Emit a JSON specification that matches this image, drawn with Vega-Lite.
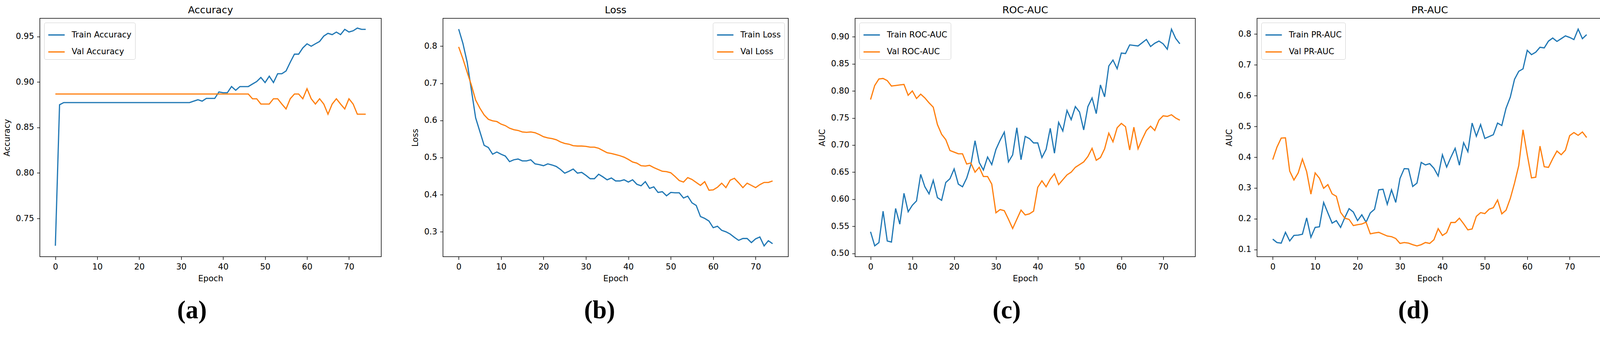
{
  "$schema": "https://vega.github.io/schema/vega-lite/v6.json",
  "background": "white",
  "padding": {"left": 6, "top": 13, "right": 0, "bottom": 0},
  "spacing": 74,
  "data": {"values": [
    {"epoch":0,"Train Accuracy":0.720,"Val Accuracy":0.8868,"Train Loss":0.846,"Val Loss":0.798,"Train ROC-AUC":0.540,"Val ROC-AUC":0.784,"Train PR-AUC":0.134,"Val PR-AUC":0.392},
    {"epoch":1,"Train Accuracy":0.875,"Val Accuracy":0.8868,"Train Loss":0.8075,"Val Loss":0.766,"Train ROC-AUC":0.514,"Val ROC-AUC":0.810,"Train PR-AUC":0.123,"Val PR-AUC":0.433},
    {"epoch":2,"Train Accuracy":0.8774,"Val Accuracy":0.8868,"Train Loss":0.757,"Val Loss":0.730,"Train ROC-AUC":0.520,"Val ROC-AUC":0.822,"Train PR-AUC":0.121,"Val PR-AUC":0.462},
    {"epoch":3,"Train Accuracy":0.8774,"Val Accuracy":0.8868,"Train Loss":0.682,"Val Loss":0.695,"Train ROC-AUC":0.578,"Val ROC-AUC":0.823,"Train PR-AUC":0.156,"Val PR-AUC":0.463},
    {"epoch":4,"Train Accuracy":0.8774,"Val Accuracy":0.8868,"Train Loss":0.607,"Val Loss":0.655,"Train ROC-AUC":0.523,"Val ROC-AUC":0.819,"Train PR-AUC":0.128,"Val PR-AUC":0.355},
    {"epoch":5,"Train Accuracy":0.8774,"Val Accuracy":0.8868,"Train Loss":0.570,"Val Loss":0.633,"Train ROC-AUC":0.521,"Val ROC-AUC":0.809,"Train PR-AUC":0.146,"Val PR-AUC":0.326},
    {"epoch":6,"Train Accuracy":0.8774,"Val Accuracy":0.8868,"Train Loss":0.533,"Val Loss":0.615,"Train ROC-AUC":0.583,"Val ROC-AUC":0.810,"Train PR-AUC":0.147,"Val PR-AUC":0.349},
    {"epoch":7,"Train Accuracy":0.8774,"Val Accuracy":0.8868,"Train Loss":0.527,"Val Loss":0.603,"Train ROC-AUC":0.554,"Val ROC-AUC":0.811,"Train PR-AUC":0.150,"Val PR-AUC":0.394},
    {"epoch":8,"Train Accuracy":0.8774,"Val Accuracy":0.8868,"Train Loss":0.509,"Val Loss":0.599,"Train ROC-AUC":0.611,"Val ROC-AUC":0.812,"Train PR-AUC":0.203,"Val PR-AUC":0.353},
    {"epoch":9,"Train Accuracy":0.8774,"Val Accuracy":0.8868,"Train Loss":0.515,"Val Loss":0.597,"Train ROC-AUC":0.577,"Val ROC-AUC":0.792,"Train PR-AUC":0.140,"Val PR-AUC":0.280},
    {"epoch":10,"Train Accuracy":0.8774,"Val Accuracy":0.8868,"Train Loss":0.509,"Val Loss":0.590,"Train ROC-AUC":0.589,"Val ROC-AUC":0.800,"Train PR-AUC":0.172,"Val PR-AUC":0.349},
    {"epoch":11,"Train Accuracy":0.8774,"Val Accuracy":0.8868,"Train Loss":0.504,"Val Loss":0.586,"Train ROC-AUC":0.597,"Val ROC-AUC":0.786,"Train PR-AUC":0.174,"Val PR-AUC":0.332},
    {"epoch":12,"Train Accuracy":0.8774,"Val Accuracy":0.8868,"Train Loss":0.489,"Val Loss":0.579,"Train ROC-AUC":0.646,"Val ROC-AUC":0.794,"Train PR-AUC":0.253,"Val PR-AUC":0.299},
    {"epoch":13,"Train Accuracy":0.8774,"Val Accuracy":0.8868,"Train Loss":0.494,"Val Loss":0.575,"Train ROC-AUC":0.623,"Val ROC-AUC":0.787,"Train PR-AUC":0.219,"Val PR-AUC":0.311},
    {"epoch":14,"Train Accuracy":0.8774,"Val Accuracy":0.8868,"Train Loss":0.496,"Val Loss":0.573,"Train ROC-AUC":0.610,"Val ROC-AUC":0.778,"Train PR-AUC":0.186,"Val PR-AUC":0.281},
    {"epoch":15,"Train Accuracy":0.8774,"Val Accuracy":0.8868,"Train Loss":0.491,"Val Loss":0.569,"Train ROC-AUC":0.635,"Val ROC-AUC":0.770,"Train PR-AUC":0.194,"Val PR-AUC":0.273},
    {"epoch":16,"Train Accuracy":0.8774,"Val Accuracy":0.8868,"Train Loss":0.491,"Val Loss":0.568,"Train ROC-AUC":0.603,"Val ROC-AUC":0.738,"Train PR-AUC":0.172,"Val PR-AUC":0.221},
    {"epoch":17,"Train Accuracy":0.8774,"Val Accuracy":0.8868,"Train Loss":0.494,"Val Loss":0.569,"Train ROC-AUC":0.598,"Val ROC-AUC":0.720,"Train PR-AUC":0.204,"Val PR-AUC":0.202},
    {"epoch":18,"Train Accuracy":0.8774,"Val Accuracy":0.8868,"Train Loss":0.483,"Val Loss":0.567,"Train ROC-AUC":0.631,"Val ROC-AUC":0.710,"Train PR-AUC":0.233,"Val PR-AUC":0.198},
    {"epoch":19,"Train Accuracy":0.8774,"Val Accuracy":0.8868,"Train Loss":0.481,"Val Loss":0.562,"Train ROC-AUC":0.638,"Val ROC-AUC":0.690,"Train PR-AUC":0.222,"Val PR-AUC":0.178},
    {"epoch":20,"Train Accuracy":0.8774,"Val Accuracy":0.8868,"Train Loss":0.478,"Val Loss":0.556,"Train ROC-AUC":0.656,"Val ROC-AUC":0.687,"Train PR-AUC":0.194,"Val PR-AUC":0.181},
    {"epoch":21,"Train Accuracy":0.8774,"Val Accuracy":0.8868,"Train Loss":0.483,"Val Loss":0.553,"Train ROC-AUC":0.628,"Val ROC-AUC":0.684,"Train PR-AUC":0.213,"Val PR-AUC":0.183},
    {"epoch":22,"Train Accuracy":0.8774,"Val Accuracy":0.8868,"Train Loss":0.480,"Val Loss":0.551,"Train ROC-AUC":0.623,"Val ROC-AUC":0.684,"Train PR-AUC":0.189,"Val PR-AUC":0.189},
    {"epoch":23,"Train Accuracy":0.8774,"Val Accuracy":0.8868,"Train Loss":0.476,"Val Loss":0.548,"Train ROC-AUC":0.639,"Val ROC-AUC":0.665,"Train PR-AUC":0.219,"Val PR-AUC":0.151},
    {"epoch":24,"Train Accuracy":0.8774,"Val Accuracy":0.8868,"Train Loss":0.468,"Val Loss":0.542,"Train ROC-AUC":0.664,"Val ROC-AUC":0.667,"Train PR-AUC":0.231,"Val PR-AUC":0.154},
    {"epoch":25,"Train Accuracy":0.8774,"Val Accuracy":0.8868,"Train Loss":0.458,"Val Loss":0.538,"Train ROC-AUC":0.708,"Val ROC-AUC":0.650,"Train PR-AUC":0.294,"Val PR-AUC":0.156},
    {"epoch":26,"Train Accuracy":0.8774,"Val Accuracy":0.8868,"Train Loss":0.463,"Val Loss":0.536,"Train ROC-AUC":0.668,"Val ROC-AUC":0.659,"Train PR-AUC":0.296,"Val PR-AUC":0.150},
    {"epoch":27,"Train Accuracy":0.8774,"Val Accuracy":0.8868,"Train Loss":0.469,"Val Loss":0.532,"Train ROC-AUC":0.654,"Val ROC-AUC":0.642,"Train PR-AUC":0.247,"Val PR-AUC":0.144},
    {"epoch":28,"Train Accuracy":0.8774,"Val Accuracy":0.8868,"Train Loss":0.458,"Val Loss":0.531,"Train ROC-AUC":0.678,"Val ROC-AUC":0.642,"Train PR-AUC":0.294,"Val PR-AUC":0.142},
    {"epoch":29,"Train Accuracy":0.8774,"Val Accuracy":0.8868,"Train Loss":0.460,"Val Loss":0.531,"Train ROC-AUC":0.664,"Val ROC-AUC":0.628,"Train PR-AUC":0.253,"Val PR-AUC":0.136},
    {"epoch":30,"Train Accuracy":0.8774,"Val Accuracy":0.8868,"Train Loss":0.452,"Val Loss":0.530,"Train ROC-AUC":0.692,"Val ROC-AUC":0.575,"Train PR-AUC":0.331,"Val PR-AUC":0.120},
    {"epoch":31,"Train Accuracy":0.8774,"Val Accuracy":0.8868,"Train Loss":0.443,"Val Loss":0.528,"Train ROC-AUC":0.709,"Val ROC-AUC":0.581,"Train PR-AUC":0.363,"Val PR-AUC":0.123},
    {"epoch":32,"Train Accuracy":0.8774,"Val Accuracy":0.8868,"Train Loss":0.443,"Val Loss":0.528,"Train ROC-AUC":0.724,"Val ROC-AUC":0.579,"Train PR-AUC":0.362,"Val PR-AUC":0.121},
    {"epoch":33,"Train Accuracy":0.8790,"Val Accuracy":0.8868,"Train Loss":0.455,"Val Loss":0.525,"Train ROC-AUC":0.669,"Val ROC-AUC":0.563,"Train PR-AUC":0.305,"Val PR-AUC":0.116},
    {"epoch":34,"Train Accuracy":0.8805,"Val Accuracy":0.8868,"Train Loss":0.448,"Val Loss":0.519,"Train ROC-AUC":0.682,"Val ROC-AUC":0.546,"Train PR-AUC":0.316,"Val PR-AUC":0.112},
    {"epoch":35,"Train Accuracy":0.8790,"Val Accuracy":0.8868,"Train Loss":0.440,"Val Loss":0.513,"Train ROC-AUC":0.732,"Val ROC-AUC":0.563,"Train PR-AUC":0.383,"Val PR-AUC":0.116},
    {"epoch":36,"Train Accuracy":0.8820,"Val Accuracy":0.8868,"Train Loss":0.445,"Val Loss":0.511,"Train ROC-AUC":0.673,"Val ROC-AUC":0.580,"Train PR-AUC":0.375,"Val PR-AUC":0.123},
    {"epoch":37,"Train Accuracy":0.8820,"Val Accuracy":0.8868,"Train Loss":0.437,"Val Loss":0.508,"Train ROC-AUC":0.716,"Val ROC-AUC":0.571,"Train PR-AUC":0.379,"Val PR-AUC":0.120},
    {"epoch":38,"Train Accuracy":0.8820,"Val Accuracy":0.8868,"Train Loss":0.437,"Val Loss":0.505,"Train ROC-AUC":0.712,"Val ROC-AUC":0.573,"Train PR-AUC":0.364,"Val PR-AUC":0.132},
    {"epoch":39,"Train Accuracy":0.8891,"Val Accuracy":0.8868,"Train Loss":0.440,"Val Loss":0.501,"Train ROC-AUC":0.704,"Val ROC-AUC":0.578,"Train PR-AUC":0.339,"Val PR-AUC":0.168},
    {"epoch":40,"Train Accuracy":0.8882,"Val Accuracy":0.8868,"Train Loss":0.434,"Val Loss":0.495,"Train ROC-AUC":0.704,"Val ROC-AUC":0.622,"Train PR-AUC":0.408,"Val PR-AUC":0.146},
    {"epoch":41,"Train Accuracy":0.8882,"Val Accuracy":0.8868,"Train Loss":0.440,"Val Loss":0.488,"Train ROC-AUC":0.677,"Val ROC-AUC":0.634,"Train PR-AUC":0.368,"Val PR-AUC":0.155},
    {"epoch":42,"Train Accuracy":0.8950,"Val Accuracy":0.8868,"Train Loss":0.428,"Val Loss":0.485,"Train ROC-AUC":0.692,"Val ROC-AUC":0.623,"Train PR-AUC":0.400,"Val PR-AUC":0.188},
    {"epoch":43,"Train Accuracy":0.8909,"Val Accuracy":0.8868,"Train Loss":0.424,"Val Loss":0.478,"Train ROC-AUC":0.731,"Val ROC-AUC":0.637,"Train PR-AUC":0.429,"Val PR-AUC":0.188},
    {"epoch":44,"Train Accuracy":0.8950,"Val Accuracy":0.8868,"Train Loss":0.435,"Val Loss":0.477,"Train ROC-AUC":0.685,"Val ROC-AUC":0.647,"Train PR-AUC":0.374,"Val PR-AUC":0.202},
    {"epoch":45,"Train Accuracy":0.8950,"Val Accuracy":0.8868,"Train Loss":0.417,"Val Loss":0.479,"Train ROC-AUC":0.742,"Val ROC-AUC":0.627,"Train PR-AUC":0.447,"Val PR-AUC":0.184},
    {"epoch":46,"Train Accuracy":0.8950,"Val Accuracy":0.8868,"Train Loss":0.421,"Val Loss":0.473,"Train ROC-AUC":0.726,"Val ROC-AUC":0.636,"Train PR-AUC":0.418,"Val PR-AUC":0.164},
    {"epoch":47,"Train Accuracy":0.8978,"Val Accuracy":0.8816,"Train Loss":0.406,"Val Loss":0.468,"Train ROC-AUC":0.764,"Val ROC-AUC":0.645,"Train PR-AUC":0.511,"Val PR-AUC":0.167},
    {"epoch":48,"Train Accuracy":0.9005,"Val Accuracy":0.8816,"Train Loss":0.408,"Val Loss":0.463,"Train ROC-AUC":0.747,"Val ROC-AUC":0.650,"Train PR-AUC":0.468,"Val PR-AUC":0.208},
    {"epoch":49,"Train Accuracy":0.9050,"Val Accuracy":0.8758,"Train Loss":0.397,"Val Loss":0.462,"Train ROC-AUC":0.771,"Val ROC-AUC":0.659,"Train PR-AUC":0.506,"Val PR-AUC":0.220},
    {"epoch":50,"Train Accuracy":0.8994,"Val Accuracy":0.8758,"Train Loss":0.406,"Val Loss":0.459,"Train ROC-AUC":0.761,"Val ROC-AUC":0.664,"Train PR-AUC":0.461,"Val PR-AUC":0.217},
    {"epoch":51,"Train Accuracy":0.9064,"Val Accuracy":0.8758,"Train Loss":0.405,"Val Loss":0.449,"Train ROC-AUC":0.728,"Val ROC-AUC":0.669,"Train PR-AUC":0.467,"Val PR-AUC":0.231},
    {"epoch":52,"Train Accuracy":0.8994,"Val Accuracy":0.8816,"Train Loss":0.405,"Val Loss":0.438,"Train ROC-AUC":0.771,"Val ROC-AUC":0.679,"Train PR-AUC":0.473,"Val PR-AUC":0.236},
    {"epoch":53,"Train Accuracy":0.9091,"Val Accuracy":0.8816,"Train Loss":0.391,"Val Loss":0.434,"Train ROC-AUC":0.787,"Val ROC-AUC":0.694,"Train PR-AUC":0.511,"Val PR-AUC":0.261},
    {"epoch":54,"Train Accuracy":0.9091,"Val Accuracy":0.8758,"Train Loss":0.396,"Val Loss":0.446,"Train ROC-AUC":0.758,"Val ROC-AUC":0.672,"Train PR-AUC":0.503,"Val PR-AUC":0.216},
    {"epoch":55,"Train Accuracy":0.9121,"Val Accuracy":0.8704,"Train Loss":0.378,"Val Loss":0.441,"Train ROC-AUC":0.811,"Val ROC-AUC":0.677,"Train PR-AUC":0.559,"Val PR-AUC":0.228},
    {"epoch":56,"Train Accuracy":0.9217,"Val Accuracy":0.8816,"Train Loss":0.371,"Val Loss":0.433,"Train ROC-AUC":0.789,"Val ROC-AUC":0.693,"Train PR-AUC":0.595,"Val PR-AUC":0.266},
    {"epoch":57,"Train Accuracy":0.9306,"Val Accuracy":0.8868,"Train Loss":0.341,"Val Loss":0.425,"Train ROC-AUC":0.846,"Val ROC-AUC":0.722,"Train PR-AUC":0.653,"Val PR-AUC":0.316},
    {"epoch":58,"Train Accuracy":0.9306,"Val Accuracy":0.8868,"Train Loss":0.336,"Val Loss":0.435,"Train ROC-AUC":0.857,"Val ROC-AUC":0.706,"Train PR-AUC":0.679,"Val PR-AUC":0.373},
    {"epoch":59,"Train Accuracy":0.9375,"Val Accuracy":0.8816,"Train Loss":0.329,"Val Loss":0.412,"Train ROC-AUC":0.841,"Val ROC-AUC":0.732,"Train PR-AUC":0.687,"Val PR-AUC":0.489},
    {"epoch":60,"Train Accuracy":0.9420,"Val Accuracy":0.8926,"Train Loss":0.311,"Val Loss":0.413,"Train ROC-AUC":0.870,"Val ROC-AUC":0.740,"Train PR-AUC":0.747,"Val PR-AUC":0.408},
    {"epoch":61,"Train Accuracy":0.9393,"Val Accuracy":0.8816,"Train Loss":0.315,"Val Loss":0.420,"Train ROC-AUC":0.869,"Val ROC-AUC":0.734,"Train PR-AUC":0.733,"Val PR-AUC":0.333},
    {"epoch":62,"Train Accuracy":0.9420,"Val Accuracy":0.8758,"Train Loss":0.304,"Val Loss":0.431,"Train ROC-AUC":0.885,"Val ROC-AUC":0.691,"Train PR-AUC":0.741,"Val PR-AUC":0.335},
    {"epoch":63,"Train Accuracy":0.9446,"Val Accuracy":0.8816,"Train Loss":0.300,"Val Loss":0.419,"Train ROC-AUC":0.884,"Val ROC-AUC":0.733,"Train PR-AUC":0.757,"Val PR-AUC":0.436},
    {"epoch":64,"Train Accuracy":0.9505,"Val Accuracy":0.8758,"Train Loss":0.294,"Val Loss":0.439,"Train ROC-AUC":0.883,"Val ROC-AUC":0.693,"Train PR-AUC":0.755,"Val PR-AUC":0.369},
    {"epoch":65,"Train Accuracy":0.9535,"Val Accuracy":0.8646,"Train Loss":0.285,"Val Loss":0.444,"Train ROC-AUC":0.889,"Val ROC-AUC":0.711,"Train PR-AUC":0.777,"Val PR-AUC":0.367},
    {"epoch":66,"Train Accuracy":0.9521,"Val Accuracy":0.8758,"Train Loss":0.277,"Val Loss":0.432,"Train ROC-AUC":0.895,"Val ROC-AUC":0.727,"Train PR-AUC":0.787,"Val PR-AUC":0.395},
    {"epoch":67,"Train Accuracy":0.9549,"Val Accuracy":0.8816,"Train Loss":0.282,"Val Loss":0.419,"Train ROC-AUC":0.882,"Val ROC-AUC":0.735,"Train PR-AUC":0.776,"Val PR-AUC":0.420},
    {"epoch":68,"Train Accuracy":0.9521,"Val Accuracy":0.8758,"Train Loss":0.282,"Val Loss":0.431,"Train ROC-AUC":0.888,"Val ROC-AUC":0.727,"Train PR-AUC":0.785,"Val PR-AUC":0.408},
    {"epoch":69,"Train Accuracy":0.9579,"Val Accuracy":0.8704,"Train Loss":0.271,"Val Loss":0.425,"Train ROC-AUC":0.892,"Val ROC-AUC":0.746,"Train PR-AUC":0.794,"Val PR-AUC":0.423},
    {"epoch":70,"Train Accuracy":0.9550,"Val Accuracy":0.8816,"Train Loss":0.281,"Val Loss":0.419,"Train ROC-AUC":0.887,"Val ROC-AUC":0.754,"Train PR-AUC":0.789,"Val PR-AUC":0.470},
    {"epoch":71,"Train Accuracy":0.9563,"Val Accuracy":0.8758,"Train Loss":0.286,"Val Loss":0.427,"Train ROC-AUC":0.877,"Val ROC-AUC":0.753,"Train PR-AUC":0.782,"Val PR-AUC":0.480},
    {"epoch":72,"Train Accuracy":0.9593,"Val Accuracy":0.8646,"Train Loss":0.262,"Val Loss":0.433,"Train ROC-AUC":0.914,"Val ROC-AUC":0.756,"Train PR-AUC":0.816,"Val PR-AUC":0.471},
    {"epoch":73,"Train Accuracy":0.9579,"Val Accuracy":0.8646,"Train Loss":0.276,"Val Loss":0.433,"Train ROC-AUC":0.897,"Val ROC-AUC":0.750,"Train PR-AUC":0.785,"Val PR-AUC":0.482},
    {"epoch":74,"Train Accuracy":0.9579,"Val Accuracy":0.8646,"Train Loss":0.268,"Val Loss":0.437,"Train ROC-AUC":0.887,"Val ROC-AUC":0.746,"Train PR-AUC":0.798,"Val PR-AUC":0.464}
  ]},
  "resolve": {"scale": {"x": "independent", "y": "independent", "color": "independent"}, "legend": {"color": "independent"}, "axis": {"x": "independent", "y": "independent"}},
  "hconcat": [
    {
      "title": {"text": "(a)", "orient": "bottom", "anchor": "middle", "frame": "bounds", "font": "Liberation Serif", "fontWeight": "bold", "fontSize": 65, "offset": 40, "color": "black"},
      "resolve": {"scale": {"color": "independent"}, "legend": {"color": "independent"}},
      "vconcat": [{
        "title": {"text": "Accuracy"},
        "width": 874, "height": 611,
        "transform": [{"fold": ["Train Accuracy", "Val Accuracy"], "as": ["series", "value"]}],
        "mark": {"type": "line", "strokeWidth": 3.05},
        "encoding": {
          "x": {"field": "epoch", "type": "quantitative", "scale": {"domain": [-3.7, 77.7], "nice": false, "zero": false}, "axis": {"values": [0,10,20,30,40,50,60,70], "title": "Epoch"}},
          "y": {"field": "value", "type": "quantitative", "scale": {"domain": [0.708, 0.970], "nice": false, "zero": false}, "axis": {"values": [0.75,0.8,0.85,0.9,0.95], "format": ".2f", "title": "Accuracy", "minExtent": 62, "maxExtent": 62}},
          "color": {"field": "series", "type": "nominal", "scale": {"domain": ["Train Accuracy", "Val Accuracy"], "range": ["#1f77b4", "#ff7f0e"]}, "legend": {"title": null, "orient": "top-left"}}
        }
      }]
    },
    {
      "title": {"text": "(b)", "orient": "bottom", "anchor": "middle", "frame": "bounds", "font": "Liberation Serif", "fontWeight": "bold", "fontSize": 65, "offset": 40, "color": "black"},
      "resolve": {"scale": {"color": "independent"}, "legend": {"color": "independent"}},
      "vconcat": [{
        "title": {"text": "Loss"},
        "width": 884, "height": 611,
        "transform": [{"fold": ["Train Loss", "Val Loss"], "as": ["series", "value"]}],
        "mark": {"type": "line", "strokeWidth": 3.05},
        "encoding": {
          "x": {"field": "epoch", "type": "quantitative", "scale": {"domain": [-3.7, 77.7], "nice": false, "zero": false}, "axis": {"values": [0,10,20,30,40,50,60,70], "title": "Epoch"}},
          "y": {"field": "value", "type": "quantitative", "scale": {"domain": [0.233, 0.875], "nice": false, "zero": false}, "axis": {"values": [0.3,0.4,0.5,0.6,0.7,0.8], "format": ".1f", "title": "Loss", "minExtent": 49, "maxExtent": 49}},
          "color": {"field": "series", "type": "nominal", "scale": {"domain": ["Train Loss", "Val Loss"], "range": ["#1f77b4", "#ff7f0e"]}, "legend": {"title": null, "orient": "top-right"}}
        }
      }]
    },
    {
      "title": {"text": "(c)", "orient": "bottom", "anchor": "middle", "frame": "bounds", "font": "Liberation Serif", "fontWeight": "bold", "fontSize": 65, "offset": 40, "color": "black"},
      "resolve": {"scale": {"color": "independent"}, "legend": {"color": "independent"}},
      "vconcat": [{
        "title": {"text": "ROC-AUC"},
        "width": 871, "height": 611,
        "transform": [{"fold": ["Train ROC-AUC", "Val ROC-AUC"], "as": ["series", "value"]}],
        "mark": {"type": "line", "strokeWidth": 3.05},
        "encoding": {
          "x": {"field": "epoch", "type": "quantitative", "scale": {"domain": [-3.7, 77.7], "nice": false, "zero": false}, "axis": {"values": [0,10,20,30,40,50,60,70], "title": "Epoch"}},
          "y": {"field": "value", "type": "quantitative", "scale": {"domain": [0.494, 0.934], "nice": false, "zero": false}, "axis": {"values": [0.5,0.55,0.6,0.65,0.7,0.75,0.8,0.85,0.9], "format": ".2f", "title": "AUC", "minExtent": 62, "maxExtent": 62}},
          "color": {"field": "series", "type": "nominal", "scale": {"domain": ["Train ROC-AUC", "Val ROC-AUC"], "range": ["#1f77b4", "#ff7f0e"]}, "legend": {"title": null, "orient": "top-left"}}
        }
      }]
    },
    {
      "title": {"text": "(d)", "orient": "bottom", "anchor": "middle", "frame": "bounds", "font": "Liberation Serif", "fontWeight": "bold", "fontSize": 65, "offset": 40, "color": "black"},
      "resolve": {"scale": {"color": "independent"}, "legend": {"color": "independent"}},
      "vconcat": [{
        "title": {"text": "PR-AUC"},
        "width": 884, "height": 611,
        "transform": [{"fold": ["Train PR-AUC", "Val PR-AUC"], "as": ["series", "value"]}],
        "mark": {"type": "line", "strokeWidth": 3.05},
        "encoding": {
          "x": {"field": "epoch", "type": "quantitative", "scale": {"domain": [-3.7, 77.7], "nice": false, "zero": false}, "axis": {"values": [0,10,20,30,40,50,60,70], "title": "Epoch"}},
          "y": {"field": "value", "type": "quantitative", "scale": {"domain": [0.077, 0.851], "nice": false, "zero": false}, "axis": {"values": [0.1,0.2,0.3,0.4,0.5,0.6,0.7,0.8], "format": ".1f", "title": "AUC", "minExtent": 49, "maxExtent": 49}},
          "color": {"field": "series", "type": "nominal", "scale": {"domain": ["Train PR-AUC", "Val PR-AUC"], "range": ["#1f77b4", "#ff7f0e"]}, "legend": {"title": null, "orient": "top-left"}}
        }
      }]
    }
  ],
  "config": {
    "font": "DejaVu Sans",
    "view": {"stroke": "black", "strokeWidth": 1.5},
    "axis": {"domain": false, "grid": false, "tickColor": "black", "tickSize": 7.6, "tickWidth": 1.5, "labelFont": "DejaVu Sans", "labelFontSize": 21, "labelColor": "black", "labelPadding": 7.6, "labelBound": false, "titleFont": "DejaVu Sans", "titleFontSize": 21, "titleFontWeight": "normal", "titleColor": "black"},
    "axisY": {"titlePadding": 12},
    "axisX": {"titlePadding": 9.5},
    "title": {"font": "DejaVu Sans", "fontSize": 25.3, "fontWeight": "normal", "color": "black", "offset": 7.6, "frame": "group", "anchor": "middle"},
    "legend": {"labelFont": "DejaVu Sans", "labelFontSize": 21, "labelColor": "black", "labelLimit": 0, "symbolType": "stroke", "symbolStrokeWidth": 3.05, "symbolSize": 1764, "labelOffset": 16, "padding": 8.6, "rowPadding": 10.5, "fillColor": "rgba(255,255,255,0.8)", "strokeColor": "#cccccc", "cornerRadius": 4, "offset": 10.5}
  }
}
